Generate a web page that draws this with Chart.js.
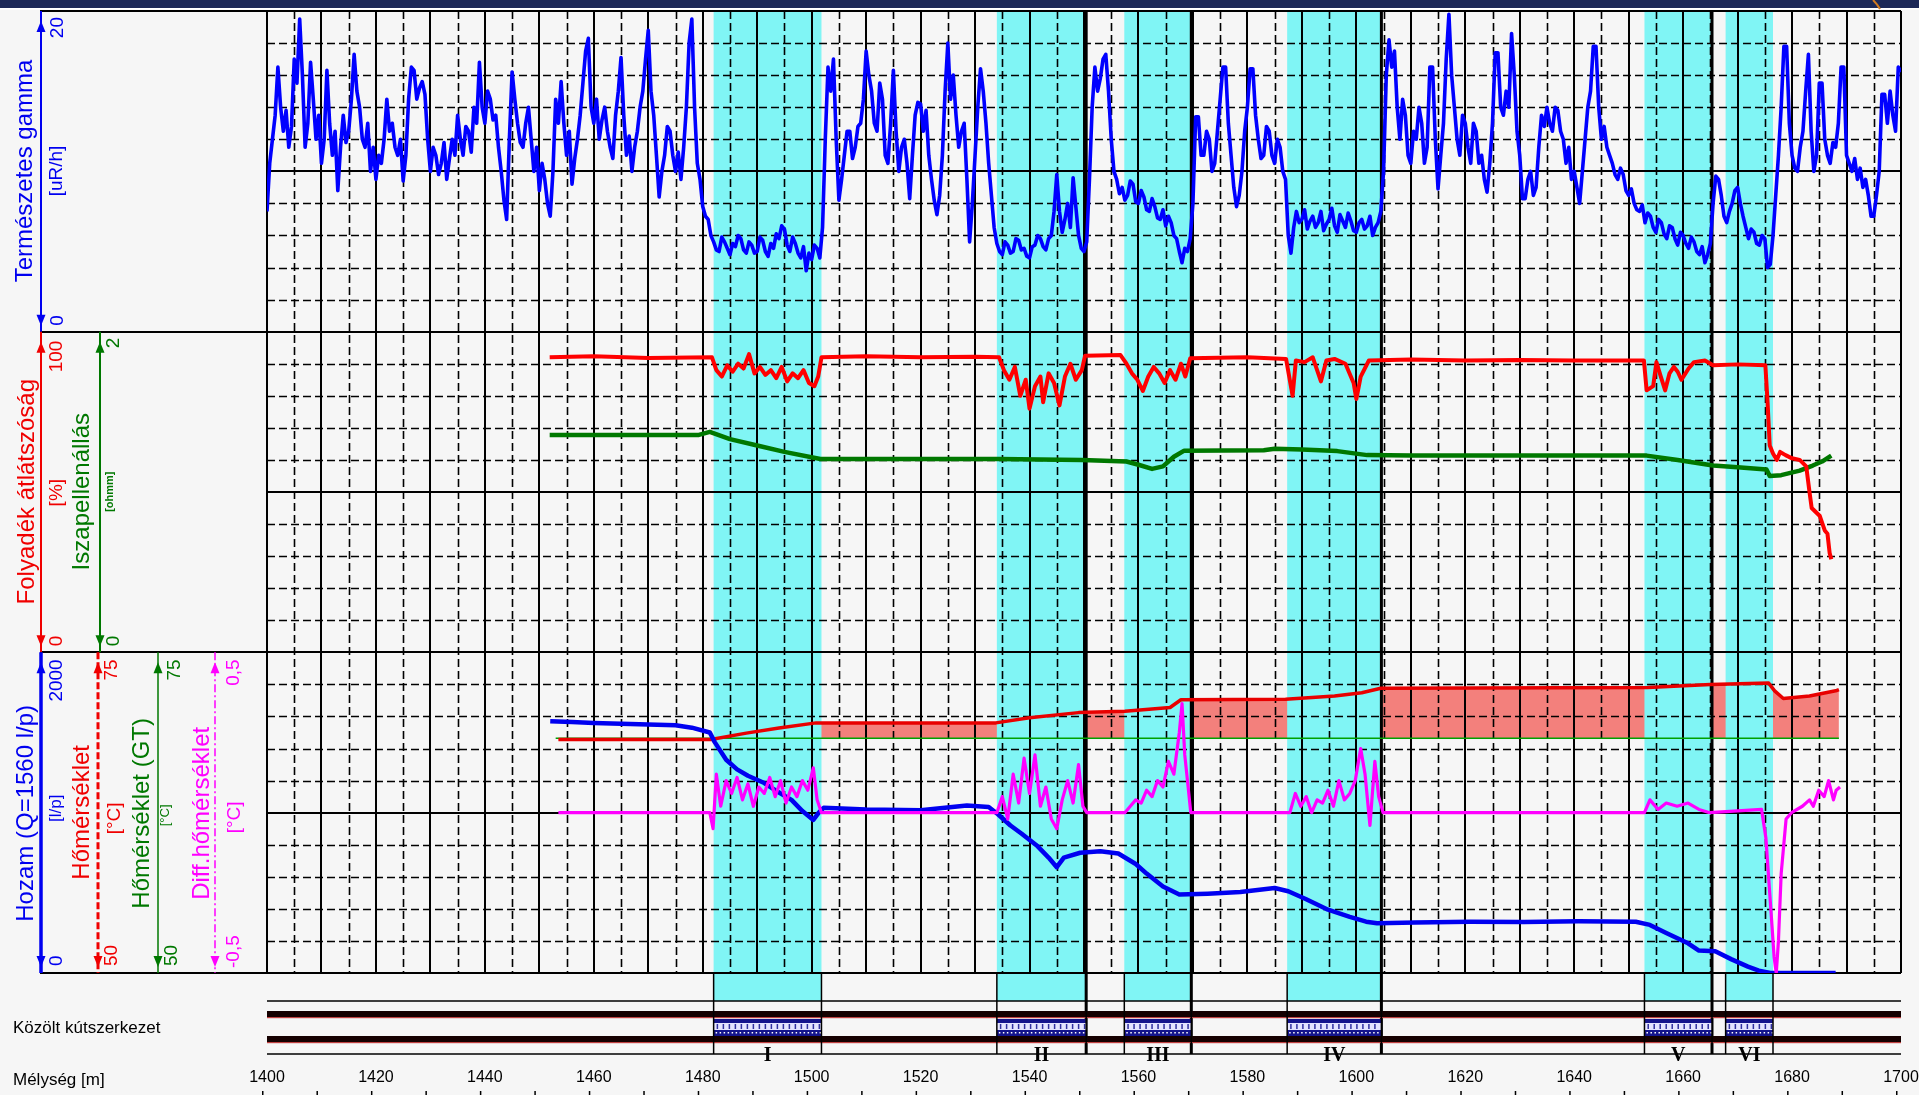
<!DOCTYPE html>
<html><head><meta charset="utf-8">
<script src="https://cdn.jsdelivr.net/npm/chart.js@4.4.1/dist/chart.umd.min.js"></script>
<style>html,body{margin:0;padding:0;background:#f6f6f6;overflow:hidden}canvas{display:block}</style>
</head><body>
<canvas id="c" width="1919" height="1095"></canvas>
<script>
// ---------------- data ----------------
const depthTicks = [1400,1420,1440,1460,1480,1500,1520,1540,1560,1580,1600,1620,1640,1660,1680,1700];
const bandTop  = [1482, 1534, 1557.4, 1587.3, 1652.9, 1667.8];
const bandBase = [1501.8, 1550.4, 1569.7, 1604.6, 1665.3, 1676.5];
const bandNames = ['I','II','III','IV','V','VI'];
const heavyEdges = [1550.4, 1569.7, 1604.6, 1665.3];

// natural gamma [uR/h], one sample every 0.5 m from 1400 m
const gammaStartDepth = 1400, gammaStepM = 0.5;
const gammaUrh = [
 7.5,10.5,12,13.5,16.5,14,12.5,13.8,11.5,12.8,
 17,15.5,19.5,16,11.5,13,16.8,14.5,12,13.5,
 10.5,12,16.3,13,11,12.5,8.8,11.5,13.5,11.8,
 12.5,14.5,17.3,15,14,12,11.5,13,10,11.5,
 9.5,11,10.5,12,14.5,12.5,13,11.5,11,12,
 9.4,11,14.5,16.5,16.3,14.5,15.2,15.6,14.8,12,
 10,11.5,11,9.8,10.5,11.8,9.5,10.8,12,11,
 13.5,12,11,12.8,12.5,11.2,14,13,16.8,14,
 13,15,14.5,13.2,13.5,11.5,10,8.2,7,12,
 16.2,14.5,13,11.8,11.5,13,14,12,10,11.5,
 8.8,10.5,9.5,8,7.2,10,14.5,13,15.6,13,
 11,12.5,9.2,10.8,12,13.5,15.5,17.5,18.3,14,
 13,14.5,12,13.2,14,12.5,11.5,10.8,13.5,15,
 17.1,13.5,11,12.2,10,11.5,12.5,14,15,17,
 18.8,15,13.5,11,8.4,10,11,12.8,12.5,11,
 10,11.2,9.5,11.5,14,18,19.5,14,10.5,9.5,
 7.8,7.2,7.0,6.0,5.6,5.1,5.0,5.9,5.6,5.2,
 4.8,5.5,5.3,6.0,5.8,5.1,4.9,5.6,5.4,4.9,
 5.0,5.9,5.7,5.0,4.7,5.5,5.2,6.1,5.8,6.6,
 6.4,5.4,5.0,5.9,5.5,4.9,4.6,5.3,3.8,4.9,
 4.5,5.4,5.2,4.6,6.5,12,16.5,15,17.0,12,
 8.2,9.5,11,12.5,12.5,10.8,11.5,12.8,13,14.5,
 17.5,16,15,13,12.5,15.5,14.5,11,10.5,13,
 16.3,12.5,10,11.5,12,10.5,8.3,11,13.5,14.3,
 14.2,12.5,13.8,11,9.5,8.2,7.3,8.5,11,15,
 18,14.5,16,13.5,11.5,12.5,13,9.5,5.6,8,
 11,14,16.4,15,13,10.5,8.5,6.5,5.5,5.0,
 4.8,5.6,5.4,4.9,5.0,5.8,5.7,5.1,5.2,4.7,
 4.6,5.3,5.4,6.0,5.8,5.3,5.1,5.8,6.0,7.5,
 9.8,7.5,6.2,7,8.0,6.5,9.6,7.8,6.0,5.2,
 5.0,5.6,9.5,14,16.5,15,15.8,17,17.3,15,
 12,10,9.5,8.6,9.0,8.2,8.5,9.4,9.2,8.1,
 8.0,8.8,8.4,7.6,7.5,8.3,7.8,7.1,7.0,7.6,
 6.6,7.2,6.8,6.0,5.8,5.0,4.3,5.2,5.0,5.8,
 8.0,13.4,13.4,11,11,12.5,12,10,10.5,12.5,
 14.5,16.5,16.5,13,11,9,7.8,8.5,10,12.5,
 14,16.4,16.4,13.5,12,10.8,11,12.8,12.5,11,
 10.5,12,11.5,10,9.5,6,4.9,6.5,7.5,6.8,
 7.0,7.6,6.4,6.9,7.2,6.5,6.8,7.5,6.3,6.7,
 7.0,7.7,6.6,6.2,7.3,6.9,6.5,7.4,6.9,6.3,
 6.2,6.8,7.0,6.4,6.6,7.2,6.0,6.5,6.8,7.5,
 10,16,18.2,16.5,17.5,14,12,14.5,13.5,11,
 10.5,12.5,12,14,13,10.5,11.5,16.5,16.5,12,
 8.9,11,13,17,19.8,16,14,12,11,13.5,
 13,11.5,10.5,13,12.5,10.5,11,9.5,8.7,10.5,
 13,17.4,17.4,14,13.5,15,14,18.6,16,12.5,
 11,8.3,8.3,9.5,10,8.5,9,11.5,13.5,12.8,
 14,13,12.5,14,13.8,12.5,12,10.5,11.5,9.5,
 10,9,8,10,12,14,15,17.8,17.8,14,
 12,12.8,11.5,11,10.5,9.8,9.5,10.2,9.8,8.8,
 8.5,8.9,8.0,7.6,7.5,7.9,6.8,7.4,7.2,6.5,
 6.2,7.0,6.8,6.1,5.8,6.6,6.5,5.8,5.4,6.2,
 6.0,5.5,5.2,5.9,5.6,5.0,4.8,5.3,4.3,4.8,
 5.5,8,9.7,9.5,8.5,7.2,6.8,7.5,8.0,8.8,
 9.0,8,7.2,6.5,5.8,6.4,6.2,5.5,5.4,6.0,
 5.8,4.0,4.2,6,8.5,11,14,17.8,17.8,13,
 11,10.2,10,11.5,12.5,15,17.3,12.5,10,11,
 15.5,15.5,12,11,10.5,11.8,11.5,13,16.5,16.5,
 11,10.5,10,10.8,9.5,10.2,9,9.5,8.5,7.2,
 7.2,8.5,10,14.8,14.8,13,15,13.5,12.5,16.5,
 16.2
];

// fluid transparency [%]
const transDepth = [1451.9,1460,1470,1481.7,1482.5,1483.5,1484.5,1485.5,1486.5,1487.5,1488.5,1489.5,1490.5,1491.5,1492.5,1493.5,1494.5,1495.5,1496.5,1497.5,1498.5,1499.5,1500.5,1501.2,1501.8,1510,1520,1530,1534.4,1535.3,1536.3,1537.3,1538.3,1539.3,1540,1541,1542,1542.5,1543.5,1544.5,1545.5,1546.5,1547.5,1548.5,1549.6,1550.2,1556.7,1557.8,1558.8,1559.8,1560.8,1561.8,1562.8,1563.8,1564.8,1565.8,1566.8,1567.8,1568.6,1569.5,1580,1587.1,1588.3,1588.9,1590.5,1592,1593.5,1594.5,1596,1598,1599.5,1600,1600.8,1602.3,1610,1620,1630,1640,1652.8,1653.3,1654.5,1655.1,1655.9,1656.7,1657.5,1658.3,1659,1659.7,1661,1662,1664,1665.5,1670,1675.1,1675.5,1675.9,1676.5,1677.2,1677.8,1678.8,1680,1681.4,1682.6,1683.2,1683.6,1685.1,1686,1686.5,1686.9,1687.2];
const transPct   = [92,92.3,91.8,92,88,86,89.5,87.5,90,88.5,93,87,89,86.5,88,85.5,89,84.5,87,85.5,88,84,83,86,92,92.3,92,92.2,92,88,85,89,80,85,76,83,86,78,87,84,77,86,90,85,88,92.5,92.7,90,87,85,81.5,86,89,87,84,88,85,90,86,91.7,92,91.5,80,91,90.5,92,84.5,91,91.5,90,84,79,86,91,91.3,91,91.2,91,91,81.7,83,90.5,86,81.7,87,89,87.5,85,88.5,90.5,91,89.5,89.8,89.5,78,64.5,62,60,62.5,61.5,60.5,60,58,50,45,42.5,38,37,31,29];

// mud resistivity [ohmm]
const mudDepth = [1451.9,1479.3,1481.3,1485,1490,1495,1501.6,1534.4,1549.6,1557.8,1560,1562.5,1564.5,1566.5,1568.4,1583,1585,1590,1596.5,1602,1610,1630,1653.3,1659,1665.5,1670,1675.3,1675.9,1678,1681.4,1683.8,1685.5,1687.2];
const mudOhmm  = [1.356,1.356,1.375,1.33,1.29,1.25,1.206,1.206,1.2,1.19,1.17,1.144,1.16,1.22,1.258,1.26,1.27,1.265,1.255,1.23,1.228,1.228,1.227,1.2,1.165,1.155,1.14,1.10,1.105,1.133,1.165,1.19,1.227];

// flow rate [l/p]
const flowDepth = [1452,1456,1460,1465,1470,1475,1478,1481.3,1482.2,1484.3,1486.3,1488.3,1491.3,1493.3,1496.3,1498.3,1500.3,1501.3,1502.2,1510,1520,1528.5,1532.5,1534.2,1536.5,1538.5,1541.5,1543.5,1545,1546.3,1549.3,1553,1556.3,1559.5,1561.5,1564.5,1567.5,1572.7,1578.7,1585,1587.5,1590.8,1594.8,1598.8,1601.8,1603.8,1610.8,1620.8,1630.8,1640.8,1651.3,1653.9,1656.9,1660.9,1662.9,1665.9,1668.9,1671.9,1673.9,1676,1688];
const flowLp    = [1570,1565,1560,1555,1550,1545,1530,1500,1440,1330,1270,1230,1185,1140,1080,1010,955,1000,1030,1020,1015,1045,1035,990,920,870,790,720,660,720,750,760,745,680,620,540,490,495,505,530,510,460,395,350,320,310,315,320,318,322,320,300,250,185,140,135,85,40,15,0,0];

// temperature [°C]
const tempDepth = [1453.5,1470,1481.5,1488,1494,1500.8,1533.8,1540,1549,1557.5,1565.8,1567.8,1587,1596,1601,1604.5,1653.5,1665,1675.7,1676.8,1678.4,1683.2,1688,1688.6];
const tempC     = [68.2,68.2,68.2,68.7,69.1,69.5,69.5,69.9,70.3,70.4,70.7,71.3,71.35,71.6,71.85,72.2,72.25,72.5,72.6,72.0,71.4,71.6,72.0,72.1];

// geothermal temperature (GT) [°C]
const gtDepth = [1453, 1688.6];
const gtC     = [68.3, 68.3];

// differential temperature [°C]
const diffDepth = [1453.5,1481.3,1481.9,1482.5,1483.3,1484.3,1485.3,1486.3,1487.3,1488.3,1489.3,1490.3,1491.3,1492.3,1493.3,1494.3,1495.3,1496.3,1497.3,1498.3,1499.3,1500.3,1501,1501.8,1534,1535,1536,1537,1538,1539,1540,1541,1542,1543,1544,1545,1546,1547,1548,1549,1549.8,1550.5,1557.5,1558.5,1559.5,1560.5,1561.5,1562.5,1563.5,1564.5,1565.5,1566.5,1567.5,1568,1568.5,1569,1569.6,1587.8,1588.8,1589.8,1590.8,1591.8,1592.8,1593.8,1594.8,1595.8,1596.8,1597.8,1598.8,1599.8,1600.8,1601.6,1602.5,1603.4,1604.1,1604.9,1652.9,1653.9,1655.4,1656.9,1658.9,1660.9,1662.9,1664.9,1674.4,1675.2,1676.1,1676.7,1677.1,1677.5,1678,1678.9,1679.9,1681.9,1683.2,1683.9,1684.9,1685.9,1686.7,1687.6,1688.1,1688.8];
const diffC     = [0,0,-0.05,0.12,0.02,0.1,0.06,0.11,0.04,0.09,0.02,0.08,0.06,0.11,0.05,0.1,0.03,0.08,0.05,0.1,0.07,0.14,0.04,0,0,0.05,-0.02,0.12,0.03,0.17,0.06,0.18,0.02,0.08,-0.02,-0.05,0.04,0.1,0.03,0.15,0.02,0,0,0.02,0.04,0.03,0.07,0.05,0.1,0.08,0.16,0.12,0.25,0.34,0.18,0.1,0,0,0.06,0.02,0.05,0,0.04,0.03,0.07,0.02,0.1,0.04,0.06,0.1,0.2,0.12,-0.04,0.16,0.05,0,0,0.04,0.01,0.03,0.02,0.03,0.01,0,0.01,-0.08,-0.3,-0.45,-0.5,-0.4,-0.19,-0.02,0,0.02,0.04,0.02,0.07,0.05,0.1,0.04,0.07,0.08];

// ---------------- drawing helpers ----------------
const FONT = '"Liberation Sans", Arial, sans-serif';
const COL = {bg:'#f6f6f6', cyan:'#80f5f5', blue:'#0000f0', red:'#f00000', green:'#007800', mag:'#ff00ff'};

function vtext(ctx, s, x, y, size, color, align, weight) {
  ctx.save();
  ctx.translate(x, y); ctx.rotate(-Math.PI/2);
  ctx.font = (weight||'normal') + ' ' + size + 'px ' + FONT;
  ctx.fillStyle = color; ctx.textAlign = align || 'center'; ctx.textBaseline = 'middle';
  ctx.fillText(s, 0, 0);
  ctx.restore();
}
function vline(ctx, x, y1, y2, color, w, dash) {
  ctx.save(); ctx.strokeStyle = color; ctx.lineWidth = w; ctx.setLineDash(dash || []);
  ctx.beginPath(); ctx.moveTo(x, y1); ctx.lineTo(x, y2); ctx.stroke(); ctx.restore();
}
function hline(ctx, x1, x2, y, color, w, dash) {
  ctx.save(); ctx.strokeStyle = color; ctx.lineWidth = w; ctx.setLineDash(dash || []);
  ctx.beginPath(); ctx.moveTo(x1, y); ctx.lineTo(x2, y); ctx.stroke(); ctx.restore();
}
function arrow(ctx, x, tipY, dir, color) {
  ctx.save(); ctx.fillStyle = color; ctx.beginPath();
  ctx.moveTo(x, tipY); ctx.lineTo(x - 4.5, tipY - dir * 11); ctx.lineTo(x + 4.5, tipY - dir * 11);
  ctx.closePath(); ctx.fill(); ctx.restore();
}
function scaleAxis(ctx, x, pTop, pBot, color, w, dash) {
  vline(ctx, x, pTop, pBot, color, w, dash);
  arrow(ctx, x, pTop + 10, -1, color);
  arrow(ctx, x, pBot - 6, 1, color);
}

const wellPlugin = {
  id: 'wellLog',
  beforeDraw(chart) {
    const ctx = chart.ctx;
    ctx.save();
    ctx.fillStyle = COL.bg; ctx.fillRect(0, 0, chart.width, chart.height);
    ctx.fillStyle = '#1c2857'; ctx.fillRect(0, 0, chart.width, 8);
    ctx.fillStyle = '#ffffff'; ctx.fillRect(0, 8, chart.width, 1.5);
    ctx.strokeStyle = '#d07a20'; ctx.lineWidth = 2;
    ctx.beginPath(); ctx.moveTo(1873, 0); ctx.quadraticCurveTo(1878, 5, 1880, 9); ctx.stroke();
    ctx.restore();
  },
  beforeDatasetsDraw(chart) {
    const ctx = chart.ctx, a = chart.chartArea, xs = chart.scales.x;
    const top = a.top, bot = a.bottom, H = (bot - top) / 3;
    const stripCyanEnd = bot + 28;
    ctx.save();
    ctx.fillStyle = COL.cyan;
    for (let i = 0; i < bandTop.length; i++) {
      const xa = xs.getPixelForValue(bandTop[i]), xb = xs.getPixelForValue(bandBase[i]);
      ctx.fillRect(xa, top, xb - xa, stripCyanEnd - top);
    }
    for (let d = 1405; d < 1700; d += 5) {
      const x = Math.round(xs.getPixelForValue(d));
      if (d % 10 === 0) vline(ctx, x, top, bot, '#000', 2);
      else vline(ctx, x + 0.5, top, bot, '#000', 1.6, [8, 4]);
    }
    for (let p = 0; p < 3; p++) {
      for (let k = 1; k < 10; k++) {
        const y = Math.round(top + p * H + k * H / 10);
        if (k === 5) hline(ctx, a.left, a.right, y, '#000', 2);
        else hline(ctx, a.left, a.right, y + 0.5, '#000', 1.6, [8, 4]);
      }
    }
    for (let p = 0; p <= 3; p++) hline(ctx, 40, a.right, Math.round(top + p * H), '#000', 2);
    vline(ctx, Math.round(a.left), top, bot, '#000', 2);
    vline(ctx, Math.round(a.right), top, bot, '#000', 2);
    for (const d of heavyEdges) vline(ctx, xs.getPixelForValue(d), top, bot + 81, '#000', 3);
    ctx.restore();
  },
  afterDraw(chart) {
    const ctx = chart.ctx, a = chart.chartArea, xs = chart.scales.x;
    const top = a.top, bot = a.bottom, H = (bot - top) / 3;
    const P = [0, 1, 2].map(p => [top + p * H, top + (p + 1) * H]);
    ctx.save();
    // panel 1 header
    scaleAxis(ctx, 41, P[0][0], P[0][1], COL.blue, 2);
    vtext(ctx, 'Természetes gamma', 25, P[0][0] + 160, 24, COL.blue);
    vtext(ctx, '[uR/h]', 57, P[0][0] + 160, 19, COL.blue);
    vtext(ctx, '20', 58, P[0][0] + 6, 19, COL.blue, 'right');
    vtext(ctx, '0', 58, P[0][1] - 6, 19, COL.blue, 'left');
    // panel 2 header
    scaleAxis(ctx, 41, P[1][0], P[1][1], COL.red, 2);
    scaleAxis(ctx, 100, P[1][0], P[1][1], COL.green, 2);
    vtext(ctx, 'Folyadék átlátszóság', 27, P[1][0] + 160, 24, COL.red);
    vtext(ctx, '[%]', 57, P[1][0] + 161, 19, COL.red);
    vtext(ctx, '100', 57, P[1][0] + 9, 19, COL.red, 'right');
    vtext(ctx, '0', 57, P[1][1] - 6, 19, COL.red, 'left');
    vtext(ctx, 'Iszapellenállás', 82, P[1][0] + 160, 24, COL.green);
    vtext(ctx, '[ohmm]', 110, P[1][0] + 160, 11, COL.green, 'center', 'bold');
    vtext(ctx, '2', 114, P[1][0] + 6, 19, COL.green, 'right');
    vtext(ctx, '0', 114, P[1][1] - 6, 19, COL.green, 'left');
    // panel 3 header
    scaleAxis(ctx, 41, P[2][0], P[2][1], COL.blue, 3.5);
    scaleAxis(ctx, 98, P[2][0], P[2][1], COL.red, 3, [7, 3]);
    scaleAxis(ctx, 158, P[2][0], P[2][1], COL.green, 1.5);
    scaleAxis(ctx, 215, P[2][0], P[2][1], COL.mag, 1.5, [8, 3, 2, 3]);
    vtext(ctx, 'Hozam (Q=1560 l/p)', 26, P[2][0] + 161, 24, COL.blue);
    vtext(ctx, '[l/p]', 56, P[2][0] + 156, 17, COL.blue);
    vtext(ctx, '2000', 57, P[2][0] + 7, 19, COL.blue, 'right');
    vtext(ctx, '0', 57, P[2][1] - 7, 19, COL.blue, 'left');
    vtext(ctx, 'Hőmérséklet', 82, P[2][0] + 160, 24, COL.red);
    vtext(ctx, '[°C]', 115, P[2][0] + 166, 19, COL.red);
    vtext(ctx, '75', 112, P[2][0] + 7, 19, COL.red, 'right');
    vtext(ctx, '50', 112, P[2][1] - 7, 19, COL.red, 'left');
    vtext(ctx, 'Hőmérséklet (GT)', 142, P[2][0] + 161, 24, COL.green);
    vtext(ctx, '[°C]', 165, P[2][0] + 163, 13, COL.green);
    vtext(ctx, '75', 175, P[2][0] + 7, 19, COL.green, 'right');
    vtext(ctx, '50', 172, P[2][1] - 7, 19, COL.green, 'left');
    vtext(ctx, 'Diff.hőmérséklet', 202, P[2][0] + 161, 24, COL.mag);
    vtext(ctx, '[°C]', 235, P[2][0] + 165, 19, COL.mag);
    vtext(ctx, '0,5', 234, P[2][0] + 7, 19, COL.mag, 'right');
    vtext(ctx, '-0,5', 234, P[2][1] - 5, 19, COL.mag, 'left');

    // well construction strip
    const L = a.left, R = a.right;
    hline(ctx, L, R, bot + 28, '#000', 1.5);
    ctx.fillStyle = '#150000'; ctx.fillRect(L, bot + 38, R - L, 6);
    ctx.fillStyle = '#c04040'; ctx.fillRect(L, bot + 44, R - L, 1.2);
    for (let i = 0; i < bandTop.length; i++) {
      const xa = xs.getPixelForValue(bandTop[i]), xb = xs.getPixelForValue(bandBase[i]);
      ctx.fillStyle = '#14148c'; ctx.fillRect(xa, bot + 46, xb - xa, 17);
      ctx.fillStyle = '#e4e4ff'; ctx.fillRect(xa, bot + 50, xb - xa, 7);
      ctx.fillStyle = '#3030a0';
      for (let x = xa + 3; x < xb - 2; x += 6) ctx.fillRect(x, bot + 51, 1.5, 5);
      ctx.fillStyle = '#ffffff';
      for (let x = xa + 2; x < xb - 1; x += 4) ctx.fillRect(x, bot + 59, 1.5, 1.5);
    }
    ctx.fillStyle = '#150000'; ctx.fillRect(L, bot + 63, R - L, 6);
    ctx.fillStyle = '#c04040'; ctx.fillRect(L, bot + 69, R - L, 1.2);
    hline(ctx, L, R, bot + 81, '#000', 1.5);
    for (let i = 0; i < bandTop.length; i++) {
      vline(ctx, xs.getPixelForValue(bandTop[i]), bot, bot + 81, '#000', 1.5);
      vline(ctx, xs.getPixelForValue(bandBase[i]), bot, bot + 81, '#000', 1.5);
    }
    ctx.fillStyle = '#000';
    ctx.font = 'bold 20px "Liberation Serif", "Times New Roman", serif';
    ctx.textAlign = 'center'; ctx.textBaseline = 'middle';
    for (let i = 0; i < bandTop.length; i++) {
      ctx.fillText(bandNames[i], xs.getPixelForValue((bandTop[i] + bandBase[i]) / 2), bot + 83);
    }
    ctx.font = '17px ' + FONT; ctx.textAlign = 'left';
    ctx.fillText('Közölt kútszerkezet', 13, bot + 55);
    ctx.fillText('Mélység [m]', 13, bot + 107);
    ctx.font = '16px ' + FONT; ctx.textAlign = 'center';
    for (const d of depthTicks) ctx.fillText(String(d), xs.getPixelForValue(d), bot + 105);
    for (const d of depthTicks) {
      ctx.fillRect(xs.getPixelForValue(d) - 5, 1091, 1.5, 4);
      if (d < 1700) ctx.fillRect(xs.getPixelForValue(d + 10) - 5, 1091, 1.5, 4);
    }
    ctx.restore();
  }
};

const xy = (ds, vs) => ds.map((d, i) => ({x: d, y: vs[i]}));
const gammaPts = gammaUrh.map((v, i) => ({x: gammaStartDepth + i * gammaStepM, y: v}));

new Chart(document.getElementById('c'), {
  type: 'line',
  data: { datasets: [
    {label: 'Diff.hőmérséklet', data: xy(diffDepth, diffC), yAxisID: 'yD', borderColor: COL.mag, borderWidth: 3.2},
    {label: 'Hozam', data: xy(flowDepth, flowLp), yAxisID: 'yF', borderColor: COL.blue, borderWidth: 4.5},
    {label: 'Hőmérséklet', data: xy(tempDepth, tempC), yAxisID: 'yC', borderColor: '#e80000', borderWidth: 3.5, fill: 3, backgroundColor: 'rgb(243,128,124)'},
    {label: 'Hőmérséklet (GT)', data: xy(gtDepth, gtC), yAxisID: 'yC', borderColor: '#00a000', borderWidth: 1.5},
    {label: 'Folyadék átlátszóság', data: xy(transDepth, transPct), yAxisID: 'yT', borderColor: '#ff0000', borderWidth: 4},
    {label: 'Iszapellenállás', data: xy(mudDepth, mudOhmm), yAxisID: 'yM', borderColor: COL.green, borderWidth: 4.5},
    {label: 'Természetes gamma', data: gammaPts, yAxisID: 'yG', borderColor: '#0000ff', borderWidth: 3.6}
  ]},
  options: {
    responsive: false, animation: false, devicePixelRatio: 1,
    layout: {padding: {left: 267, right: 18, top: 11, bottom: 122}},
    elements: {point: {radius: 0}, line: {tension: 0, borderJoinStyle: 'round', fill: false}},
    scales: {
      x:  {type: 'linear', min: 1400, max: 1700, display: false},
      yG: {type: 'linear', min: -40, max: 20, display: false},
      yT: {type: 'linear', min: -100, max: 200, display: false},
      yM: {type: 'linear', min: -2, max: 4, display: false},
      yF: {type: 'linear', min: 0, max: 6000, display: false},
      yC: {type: 'linear', min: 50, max: 125, display: false},
      yD: {type: 'linear', min: -0.5, max: 2.5, display: false}
    },
    plugins: {legend: {display: false}, tooltip: {enabled: false}, filler: {drawTime: 'beforeDatasetsDraw'}}
  },
  plugins: [wellPlugin]
});
</script>
</body></html>
